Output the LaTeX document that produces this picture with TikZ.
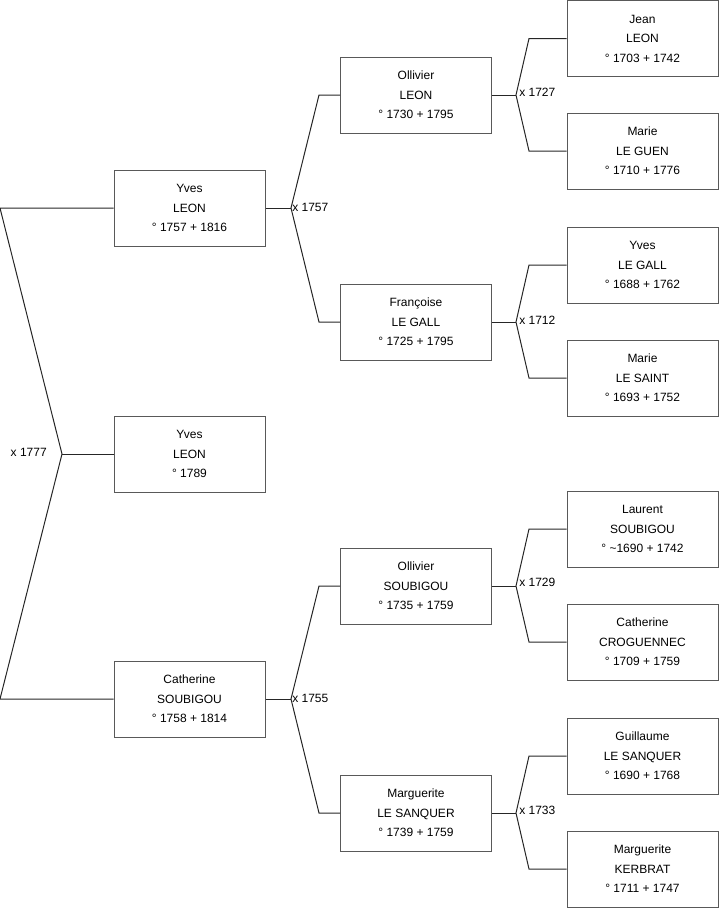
\documentclass[tikz,border=0pt]{standalone}
\usepackage{fontspec}
\setmainfont{Liberation Sans}
\begin{document}
\begin{tikzpicture}[x=0.75pt,y=-0.75pt,
  person/.style={draw=black!65,line width=0.75pt,minimum width=113.25pt,minimum height=57pt,
    inner sep=0pt,align=center,font=\fontsize{9pt}{14.6pt}\selectfont},
  link/.style={draw=black!85,line width=0.75pt},
  marr/.style={inner sep=0pt,font=\fontsize{9pt}{10pt}\selectfont}]
\useasboundingbox (0,0) rectangle (719,908);
% column 1
\node[person] (yves) at (189.5,208) {Yves\\LEON\\° 1757 + 1816};
\node[person] (yvesb) at (189.5,454) {Yves\\LEON\\° 1789};
\node[person] (cath) at (189.5,699) {Catherine\\SOUBIGOU\\° 1758 + 1814};
% column 2
\node[person] (olli) at (416,95) {Ollivier\\LEON\\° 1730 + 1795};
\node[person] (fran) at (416,322) {Françoise\\LE GALL\\° 1725 + 1795};
\node[person] (ollis) at (416,586) {Ollivier\\SOUBIGOU\\° 1735 + 1759};
\node[person] (marg) at (416,813) {Marguerite\\LE SANQUER\\° 1739 + 1759};
% column 3
\node[person] (jean) at (642.5,38.5) {Jean\\LEON\\° 1703 + 1742};
\node[person] (marie) at (642.5,151) {Marie\\LE GUEN\\° 1710 + 1776};
\node[person] (yvesg) at (642.5,265) {Yves\\LE GALL\\° 1688 + 1762};
\node[person] (maries) at (642.5,378) {Marie\\LE SAINT\\° 1693 + 1752};
\node[person] (laur) at (642.5,529) {Laurent\\SOUBIGOU\\° \textasciitilde1690 + 1742};
\node[person] (catc) at (642.5,642) {Catherine\\CROGUENNEC\\° 1709 + 1759};
\node[person] (guil) at (642.5,756) {Guillaume\\LE SANQUER\\° 1690 + 1768};
\node[person] (margk) at (642.5,869) {Marguerite\\KERBRAT\\° 1711 + 1747};
% root junction
\coordinate (r0) at (62,454);
\coordinate (ra) at (0,208);
\coordinate (rb) at (0,699);
\draw[link] (yves.west) -- (ra) -- (r0) -- (rb) -- (cath.west);
\draw[link] (r0) -- (yvesb.west);
\node[marr,anchor=east] (m1777) at (47,452) {x 1777};
% Yves parents
\coordinate (j1) at (291,208);
\coordinate (j1a) at (319,95);
\coordinate (j1b) at (319,322);
\draw[link] (yves.east) -- (j1);
\draw[link] (olli.west) -- (j1a) -- (j1) -- (j1b) -- (fran.west);
\node[marr,anchor=west] (m1757) at (292,207) {x 1757};
% Catherine parents
\coordinate (j2) at (291,699);
\coordinate (j2a) at (319,586);
\coordinate (j2b) at (319,813);
\draw[link] (cath.east) -- (j2);
\draw[link] (ollis.west) -- (j2a) -- (j2) -- (j2b) -- (marg.west);
\node[marr,anchor=west] (m1755) at (292,698) {x 1755};
% Ollivier LEON parents
\coordinate (j3) at (516,95);
\coordinate (j3a) at (529,38.5);
\coordinate (j3b) at (529,151);
\draw[link] (olli.east) -- (j3);
\draw[link] (jean.west) -- (j3a) -- (j3) -- (j3b) -- (marie.west);
\node[marr,anchor=west] (m1727) at (519,92) {x 1727};
% Francoise parents
\coordinate (j4) at (516,322);
\coordinate (j4a) at (529,265);
\coordinate (j4b) at (529,378);
\draw[link] (fran.east) -- (j4);
\draw[link] (yvesg.west) -- (j4a) -- (j4) -- (j4b) -- (maries.west);
\node[marr,anchor=west] (m1712) at (519,320) {x 1712};
% Ollivier SOUBIGOU parents
\coordinate (j5) at (516,586);
\coordinate (j5a) at (529,529);
\coordinate (j5b) at (529,642);
\draw[link] (ollis.east) -- (j5);
\draw[link] (laur.west) -- (j5a) -- (j5) -- (j5b) -- (catc.west);
\node[marr,anchor=west] (m1729) at (519,582) {x 1729};
% Marguerite parents
\coordinate (j6) at (516,813);
\coordinate (j6a) at (529,756);
\coordinate (j6b) at (529,869);
\draw[link] (marg.east) -- (j6);
\draw[link] (guil.west) -- (j6a) -- (j6) -- (j6b) -- (margk.west);
\node[marr,anchor=west] (m1733) at (519,810) {x 1733};
\end{tikzpicture}
\end{document}
